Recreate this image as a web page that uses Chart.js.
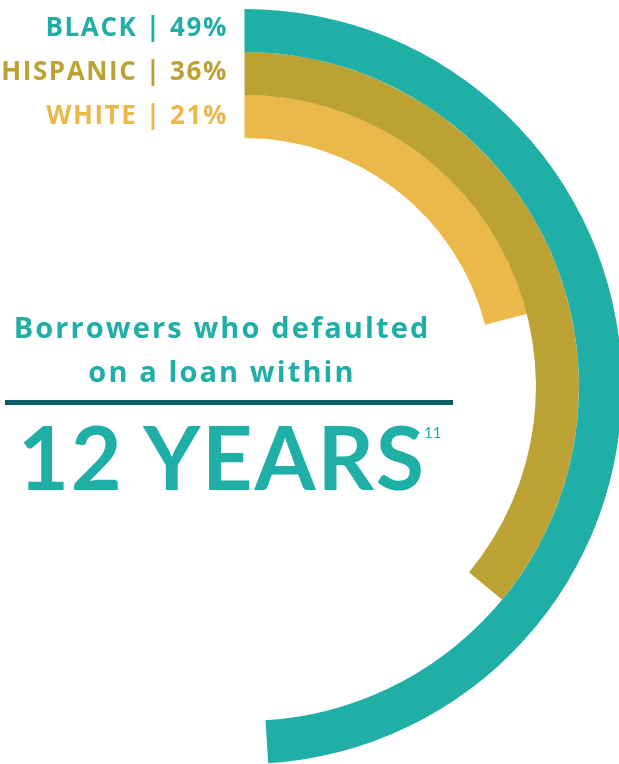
<!DOCTYPE html>
<html>
<head>
<meta charset="utf-8">
<script src="https://cdn.jsdelivr.net/npm/chart.js@4"></script>
<style>
  html, body { margin: 0; padding: 0; background: #fff; }
  body { width: 619px; height: 764px; overflow: hidden; position: relative; font-family: "Open Sans", Lato, sans-serif; }
  #chart { position: absolute; left: -133px; top: 9px; }
  .lbl { position: absolute; right: 391px; font-weight: 700; font-size: 26px; line-height: 30px; letter-spacing: 1.6px; white-space: nowrap; }
  .title { position: absolute; left: 0; width: 444px; text-align: center; color: #1fafa6; font-weight: 700; font-size: 29px; line-height: 34px; letter-spacing: 2.1px; white-space: nowrap; }
  #rule { position: absolute; left: 5px; top: 400px; width: 448px; height: 5px; background: #0b5e66; }
  #big { position: absolute; left: 18px; top: 406px; color: #1fafa6; font-family: Lato, sans-serif; font-weight: 700; font-size: 88px; line-height: 100px; letter-spacing: 1.8px; white-space: nowrap; }
  #sup { position: absolute; left: 424px; top: 423px; color: #1fafa6; font-family: Lato, sans-serif; font-size: 15px; line-height: 18px; }
</style>
</head>
<body>
<canvas id="chart" width="755" height="755"></canvas>
<div id="labels"></div>
<div class="title" style="top:310px">Borrowers who defaulted</div>
<div class="title" style="top:354px">on a loan within</div>
<div id="rule"></div>
<div id="big">12 YEARS</div>
<div id="sup">11</div>
<script>
const groups = ['BLACK', 'HISPANIC', 'WHITE'];
const percents = [49, 36, 21];
const colors = ['#1fafa6', '#bca232', '#ebb84a'];

// legend text at the top left
const labelBox = document.getElementById('labels');
groups.forEach((g, i) => {
    const d = document.createElement('div');
    d.className = 'lbl';
    d.style.top = (11 + i * 44) + 'px';
    d.style.color = colors[i];
    d.textContent = g + ' | ' + percents[i] + '%';
    labelBox.appendChild(d);
});

const ctx = document.getElementById('chart');

new Chart(ctx, {
    type: 'doughnut',
    data: {
        labels: ['value', 'rest'],
        datasets: groups.map((g, i) => ({
            label: g,
            data: [percents[i], 100 - percents[i]],
            backgroundColor: [colors[i], 'rgba(0,0,0,0)'],
            borderWidth: 0
        }))
    },
    options: {
        responsive: false,
        animation: false,
        events: [],
        cutout: '65.8%',
        layout: { padding: 0 },
        plugins: {
            legend: { display: false },
            tooltip: { enabled: false }
        }
    }
});
</script>
</body>
</html>
